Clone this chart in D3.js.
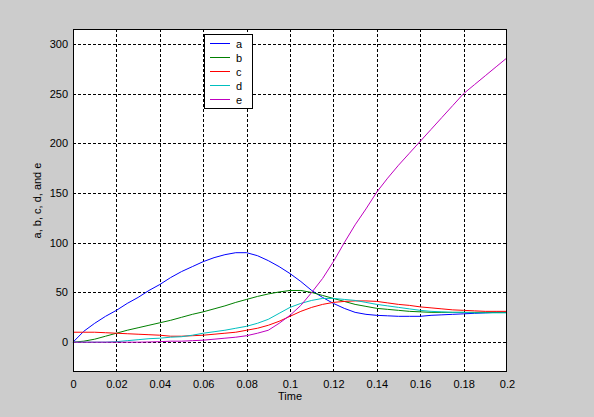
<!DOCTYPE html>
<html><head><meta charset="utf-8">
<script src="https://cdn.jsdelivr.net/npm/d3@7"></script>
<style>
html,body{margin:0;padding:0;background:#cccccc;}
svg{display:block;}
text{font-family:"Liberation Sans",Arial,sans-serif;font-size:11px;fill:#000;}
</style></head>
<body>
<svg id="chart" width="594" height="417"></svg>
<script>
const time = [0,0.005,0.01,0.015,0.02,0.025,0.03,0.035,0.04,0.045,0.05,0.055,0.06,0.065,0.07,0.075,0.08,0.085,0.09,0.095,0.1,0.105,0.11,0.115,0.12,0.125,0.13,0.135,0.14,0.145,0.15,0.155,0.16,0.165,0.17,0.175,0.18,0.185,0.19,0.195,0.2];
const seriesA = [0,11,19,26,32,39,45,52,58,65,71,76,81,85,88,90,90,87,82,76,69,61,52,45,39,34,30,28,27,26.5,26,26,26,27,27.5,28,28.5,29,29.5,30,30];
const seriesB = [0,1,3,6,9,12,14.5,17,19.5,22,25,28,30.5,33.5,36.5,40,43,46,48.5,50.5,52,52,50,47,44,41,38,36,34,33,32,31,30.5,30,30,30,30,30,30,30,30];
const seriesC = [10,10,10,9.5,9,8.5,8,7.5,7,6,6,6.5,7,8,9,10,12,14,17,21,26,31,35,38,40,41,41.5,41.5,41,39.5,38,37,35.5,34.5,33.5,32.5,32,31.5,31,31,31];
const seriesD = [0,0,0,0,0.5,1.5,2.5,3.5,4,5,5.5,7,9,10.5,12,14,16,19,23,29,35,39,42,44,44,43,42,40,38,36.5,35,33.5,32,31,30.5,30,30,29.5,29.5,29.5,29.5];
const seriesE = [0,0,0,0,0,0,0,0.2,0.5,1,1,1.5,2,3,4,5,6.5,9,12,19,27,37,50,64,81,100,118,134,151,165,178,190,202,214,226,238,250,259,268,277,286];
const seriesNames = ["a","b","c","d","e"];
const seriesColors = ["#0000ff","#008000","#ff0000","#00bfbf","#bf00bf"];
const xTicks = [0,0.02,0.04,0.06,0.08,0.1,0.12,0.14,0.16,0.18,0.2];
const yTicks = [0,50,100,150,200,250,300];
const xLabel = "Time";
const yLabel = "a, b, c, d, and e";

const allSeries = [seriesA,seriesB,seriesC,seriesD,seriesE];
const svg = d3.select("#chart");
const L=73, R=507, T=29, B=372;
const x = d3.scaleLinear().domain([0,0.2]).range([L,R]);
const y = d3.scaleLinear().domain([-30,315]).range([B,T]);

svg.append("rect").attr("x",L).attr("y",T).attr("width",R-L).attr("height",B-T).attr("fill","#fff");

// grid
const grid = svg.append("g").attr("stroke","#000").attr("stroke-width",1).attr("stroke-dasharray","3,2").attr("shape-rendering","crispEdges");
xTicks.forEach(t=>{ if(t>0 && t<0.2) grid.append("line").attr("x1",Math.round(x(t))+0.5).attr("x2",Math.round(x(t))+0.5).attr("y1",T).attr("y2",B);});
yTicks.forEach(v=>{ grid.append("line").attr("y1",Math.round(y(v))+0.5).attr("y2",Math.round(y(v))+0.5).attr("x1",L).attr("x2",R);});

// axes
const xAxis = d3.axisBottom(x).tickValues(xTicks).tickFormat(d=>d3.format("~g")(d)).tickSize(0).tickPadding(8);
const gx = svg.append("g").attr("transform",`translate(0,${B})`).call(xAxis);
gx.select(".domain").remove();
gx.selectAll("text").style("font-size","11px").style("font-family","'Liberation Sans',Arial,sans-serif");
const yAxis = d3.axisLeft(y).tickValues(yTicks).tickSize(0).tickPadding(5);
const gy = svg.append("g").attr("transform",`translate(${L},0)`).call(yAxis);
gy.select(".domain").remove();
gy.selectAll("text").style("font-size","11px").style("font-family","'Liberation Sans',Arial,sans-serif");

// lines
const line = d3.line().x((d,i)=>x(time[i])).y(d=>y(d));
allSeries.forEach((s,k)=>{
  svg.append("path").datum(s).attr("d",line).attr("fill","none").attr("stroke",seriesColors[k]).attr("stroke-width",1);
});

// box
svg.append("rect").attr("x",L+0.5).attr("y",T+0.5).attr("width",R-L-1).attr("height",B-T-1).attr("fill","none").attr("stroke","#000").attr("stroke-width",1).attr("shape-rendering","crispEdges");

// labels
svg.append("text").attr("x",(L+R)/2).attr("y",400).attr("text-anchor","middle").text(xLabel);
svg.append("text").attr("transform",`translate(41,${(T+B)/2}) rotate(-90)`).attr("text-anchor","middle").text(yLabel);

// legend
const lg = svg.append("g");
lg.append("rect").attr("x",204.5).attr("y",34.5).attr("width",48).attr("height",74).attr("fill","#fff").attr("stroke","#000").attr("shape-rendering","crispEdges");
seriesNames.forEach((n,i)=>{
  const yy = 43.5 + i*14;
  lg.append("line").attr("x1",210).attr("x2",230).attr("y1",yy).attr("y2",yy).attr("stroke",seriesColors[i]);
  lg.append("text").attr("x",236).attr("y",yy+4).text(n);
});
</script>
</body></html>
